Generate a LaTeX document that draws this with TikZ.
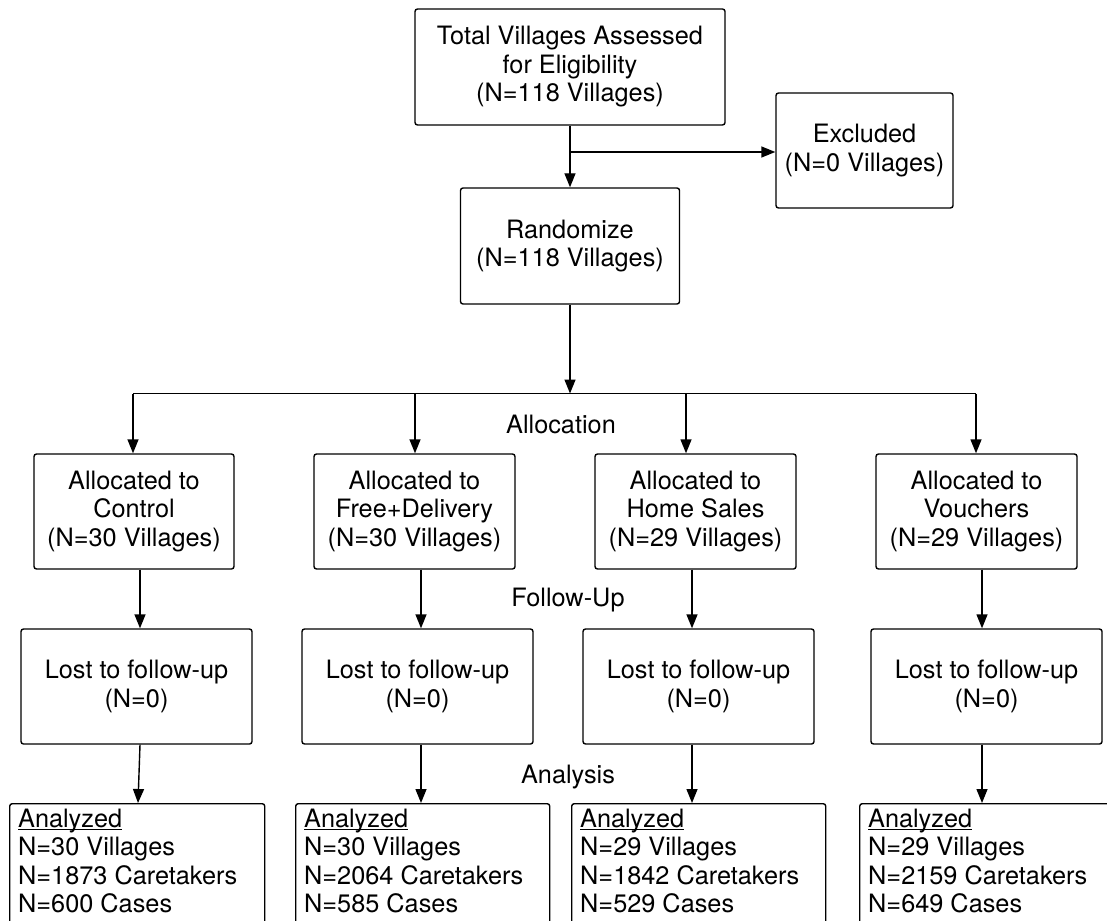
\documentclass[tikz,border=0pt]{standalone}
\usepackage{fontspec}
\setmainfont{TeX Gyre Heros}
\usetikzlibrary{arrows.meta}
\tikzset{
  ln/.style={line width=1.4pt, draw=black},
  arr/.style={ln, -{Triangle[length=14pt,width=11pt]}},
  box/.style={draw=black, line width=1.4pt, rounded corners=2.5pt, align=center, inner sep=0pt,
    font=\fontsize{25.3}{28.5}\selectfont},
  lbl/.style={inner sep=0pt, font=\fontsize{25.3}{28.5}\selectfont},
  antext/.style={inner sep=0pt, anchor=base west, font=\fontsize{25.3}{28.5}\selectfont},
}
\newcommand{\myul}[1]{\setbox0\hbox{#1}\rlap{\rule[-3pt]{\wd0}{1.3pt}}\box0}
\newcommand{\antab}[3]{\begin{tabular}[t]{@{}l@{}}\myul{Analyzed}\\ N=#1 Villages\\ N=#2 Caretakers\\ N=#3 Cases\end{tabular}}
\begin{document}
\begin{tikzpicture}[x=1pt,y=-1pt]
\clip (0,0) rectangle (1107,920);
\fill[white] (0,0) rectangle (1107,920);
% top
\node[box, minimum width=310pt, minimum height=116pt] (top) at (570,67) {Total Villages Assessed\\for Eligibility\\(N=118 Villages)};
\node[box, minimum width=177pt, minimum height=115pt] (excl) at (864.5,150.5) {Excluded\\(N=0 Villages)};
\node[box, minimum width=219pt, minimum height=116pt] (rand) at (570,246) {Randomize\\(N=118 Villages)};
\coordinate (split) at (570,152);
\draw[arr] (top.south) -- (top.south |- rand.north);
\draw[arr] (split) -- (split -| excl.west);
% bus
\coordinate (bus) at (570,393.5);
\coordinate (b1) at (133,393.5);
\coordinate (b2) at (415,393.5);
\coordinate (b3) at (686,393.5);
\coordinate (b4) at (976,393.5);
\draw[arr] (rand.south) -- (rand.south |- bus);
\draw[ln] (b1) -- (b4);
% allocated
\node[box, minimum width=200pt, minimum height=115pt] (al1) at (134,511.5) {Allocated to\\Control\\(N=30 Villages)};
\node[box, minimum width=201pt, minimum height=115pt] (al2) at (414.5,511.5) {Allocated to\\Free+Delivery\\(N=30 Villages)};
\node[box, minimum width=201pt, minimum height=115pt] (al3) at (695.5,511.5) {Allocated to\\Home Sales\\(N=29 Villages)};
\node[box, minimum width=201pt, minimum height=115pt] (al4) at (976.5,511.5) {Allocated to\\Vouchers\\(N=29 Villages)};
\draw[arr] (b1) -- (b1 |- al1.north);
\draw[arr] (b2) -- (b2 |- al2.north);
\draw[arr] (b3) -- (b3 |- al3.north);
\draw[arr] (b4) -- (b4 |- al4.north);
\node[lbl] (lalloc) at (561,424) {Allocation};
% lost
\node[box, minimum width=231pt, minimum height=115pt] (lo1) at (136.5,686.5) {Lost to follow-up\\(N=0)};
\node[box, minimum width=231pt, minimum height=115pt] (lo2) at (417.5,686.5) {Lost to follow-up\\(N=0)};
\node[box, minimum width=231pt, minimum height=115pt] (lo3) at (698.5,686.5) {Lost to follow-up\\(N=0)};
\node[box, minimum width=231pt, minimum height=115pt] (lo4) at (986.5,686.5) {Lost to follow-up\\(N=0)};
\coordinate (f1) at (140,0);
\coordinate (f2) at (421,0);
\coordinate (f3) at (692,0);
\coordinate (f4) at (982,0);
\coordinate (g1) at (138,0);
\draw[arr] (al1.south -| f1) -- (lo1.north -| f1);
\draw[arr] (al2.south -| f2) -- (lo2.north -| f2);
\draw[arr] (al3.south -| f3) -- (lo3.north -| f3);
\draw[arr] (al4.south -| f4) -- (lo4.north -| f4);
\node[lbl] (lfollow) at (568,600) {Follow-Up};
% analyzed
\node[box, anchor=north west, minimum width=255pt, minimum height=160pt] (an1) at (9,803) {};
\node[box, anchor=north west, minimum width=254pt, minimum height=160pt] (an2) at (295,803) {};
\node[box, anchor=north west, minimum width=254pt, minimum height=160pt] (an3) at (571,803) {};
\node[box, anchor=north west, minimum width=270pt, minimum height=160pt] (an4) at (859,803) {};
\draw[arr] (lo1.south -| f1) -- (an1.north -| g1);
\draw[arr] (lo2.south -| f2) -- (an2.north -| f2);
\draw[arr] (lo3.south -| f3) -- (an3.north -| f3);
\draw[arr] (lo4.south -| f4) -- (an4.north -| f4);
\node[lbl] (lanalysis) at (568,777) {Analysis};
\node[antext] (at1) at (18,827) {\antab{30}{1873}{600}};
\node[antext] (at2) at (304,827) {\antab{30}{2064}{585}};
\node[antext] (at3) at (580,827) {\antab{29}{1842}{529}};
\node[antext] (at4) at (868,827) {\antab{29}{2159}{649}};
\end{tikzpicture}
\end{document}
